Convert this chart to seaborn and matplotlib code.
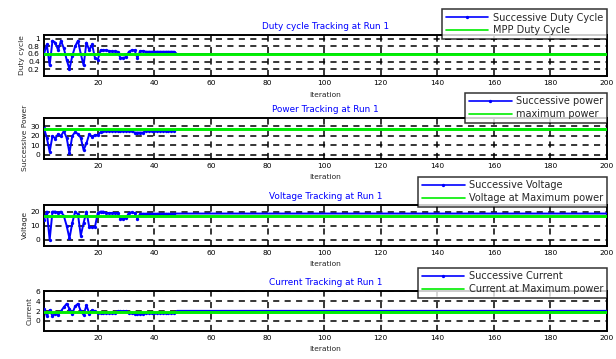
import numpy as np
import pandas as pd
import matplotlib
matplotlib.use("Agg")
import matplotlib.pyplot as plt
import seaborn as sns

sns.set_style("white")
plt.rcParams["font.family"] = ["DejaVu Sans"]

# Iteration axis and tracking results for run 1
iterations = np.arange(1, 201)
n_transient = 47

duty_transient = [0.60, 0.85, 0.30, 0.95, 0.90, 0.70, 0.95, 0.75, 0.45, 0.20,
                  0.55, 0.80, 0.95, 0.60, 0.30, 0.90, 0.70, 0.85, 0.50, 0.45,
                  0.70, 0.70, 0.70, 0.68, 0.67, 0.67, 0.66, 0.50, 0.50, 0.52,
                  0.66, 0.70, 0.70, 0.50, 0.68, 0.68, 0.66, 0.66, 0.66, 0.66,
                  0.66, 0.66, 0.66, 0.66, 0.66, 0.66, 0.66]
duty_settled = 0.60
mpp_duty = 0.60

power_transient = [28, 18, 3, 20, 17, 22, 20, 25, 18, 2,
                   20, 24, 22, 18, 5, 12, 22, 19, 21, 21,
                   24, 25, 25.5, 25.5, 25.5, 25.5, 25.5, 25.5, 25.5, 25.5,
                   25.5, 25.5, 23.5, 23.5, 23.5, 23.5, 25.5, 25.5, 25.5, 25.5,
                   25.5, 25.5, 25.5, 25.5, 25.5, 25.5, 25.5]
power_settled = 27.0
max_power = 27.5

voltage_transient = [14, 20, 0, 20, 20, 19, 20, 17, 10, 1,
                     12, 20, 18, 3, 12, 20, 9, 9, 9, 19,
                     20, 20, 19, 19, 19, 19, 19, 15, 15, 15.5,
                     19, 19.5, 19, 15, 18.5, 18.5, 18.5, 18.5, 18.5, 18.5,
                     18.5, 18.5, 18.5, 18.5, 18.5, 18.5, 18.5]
voltage_settled = 18.6
voltage_mpp = 16.6

current_transient = [2.5, 1.0, 2.2, 1.0, 1.5, 1.2, 2.0, 2.8, 3.5, 2.5,
                     1.5, 3.0, 3.5, 2.0, 1.2, 3.2, 1.5, 2.2, 2.0, 1.6,
                     1.7, 1.7, 1.7, 1.7, 1.7, 1.7, 2.0, 2.0, 2.0, 2.0,
                     1.7, 1.7, 1.4, 1.4, 1.4, 1.4, 1.6, 1.6, 1.6, 1.6,
                     1.6, 1.6, 1.6, 1.6, 1.6, 1.6, 1.6]
current_settled = 2.05
current_mpp = 1.9

x_ticks = [20, 40, 60, 80, 100, 120, 140, 160, 180, 200]


def full_series(transient, settled):
    return np.array(list(transient) + [settled] * (len(iterations) - len(transient)))


panels = [
    dict(series=full_series(duty_transient, duty_settled), ref=mpp_duty,
         title="Duty cycle Tracking at Run 1", ylabel="Duty cycle",
         labels=("Successive Duty Cycle", "MPP Duty Cycle"),
         ylim=(0.02, 1.1), yticks=[0.2, 0.4, 0.6, 0.8, 1.0],
         yticklabels=["0.2", "0.4", "0.6", "0.8", "1"],
         rect=[44 / 616, 1 - 76 / 359, 563 / 616, 41 / 359], leg_y=1.63),
    dict(series=full_series(power_transient, power_settled), ref=max_power,
         title="Power Tracking at Run 1", ylabel="Successive Power",
         labels=("Successive power", "maximum power"),
         ylim=(-4, 39), yticks=[0, 10, 20, 30],
         yticklabels=["0", "10", "20", "30"],
         rect=[44 / 616, 1 - 158.5 / 359, 563 / 616, 40.5 / 359], leg_y=1.62),
    dict(series=full_series(voltage_transient, voltage_settled), ref=voltage_mpp,
         title="Voltage Tracking at Run 1", ylabel="Voltage",
         labels=("Successive Voltage", "Voltage at Maximum power"),
         ylim=(-4, 25), yticks=[0, 10, 20],
         yticklabels=["0", "10", "20"],
         rect=[44 / 616, 1 - 245.5 / 359, 563 / 616, 41 / 359], leg_y=1.67),
    dict(series=full_series(current_transient, current_settled), ref=current_mpp,
         title="Current Tracking at Run 1", ylabel="Current",
         labels=("Successive Current", "Current at Maximum power"),
         ylim=(-2, 6.1), yticks=[0, 2, 4, 6],
         yticklabels=["0", "2", "4", "6"],
         rect=[44 / 616, 1 - 330.7 / 359, 563 / 616, 39.7 / 359], leg_y=1.58),
]

fig = plt.figure(figsize=(6.16, 3.59), dpi=100)

for p in panels:
    ax = fig.add_axes(p["rect"])
    df = pd.DataFrame({"Iteration": iterations, "value": p["series"],
                       "reference": np.full(len(iterations), p["ref"])})
    sns.lineplot(data=df, x="Iteration", y="value", ax=ax, color="blue",
                 linewidth=1.4, marker="o", markersize=2.4, markeredgewidth=0,
                 markevery=slice(0, n_transient), label=p["labels"][0], zorder=3)
    sns.lineplot(data=df, x="Iteration", y="reference", ax=ax, color="#00ee00",
                 linewidth=2.1, label=p["labels"][1], zorder=4)

    ax.set_xlim(1, 200)
    ax.set_ylim(*p["ylim"])
    ax.set_xticks(x_ticks)
    ax.set_yticks(p["yticks"])
    ax.set_yticklabels(p["yticklabels"])
    ax.tick_params(direction="in", length=2.5, width=0.8, labelsize=5.4,
                   pad=3, colors="black")
    ax.grid(True, linestyle=(0, (4, 3.5)), color="black", linewidth=1.1)
    ax.set_axisbelow(True)
    for s in ax.spines.values():
        s.set_linewidth(1.4)
        s.set_color("black")

    ax.set_title(p["title"], color="blue", fontsize=6.4, pad=4)
    ax.set_xlabel("Iteration", fontsize=5.4, labelpad=4)
    ax.set_ylabel(p["ylabel"], fontsize=5.4, labelpad=2)

    leg = ax.legend(loc="upper right", bbox_to_anchor=(1.0, p["leg_y"]),
                    borderaxespad=0, fontsize=7.0, frameon=True, fancybox=False,
                    handlelength=4.4, handletextpad=0.5, labelspacing=0.3,
                    borderpad=0.35, numpoints=1)
    leg.get_frame().set_edgecolor("black")
    leg.get_frame().set_linewidth(1.1)
    for h in leg.get_lines():
        h.set_linewidth(1.2)
        if len(h.get_xdata()) == 3:
            h.set_markevery([1])
    leg.set_zorder(10)

fig.savefig("out.png", dpi=100)
